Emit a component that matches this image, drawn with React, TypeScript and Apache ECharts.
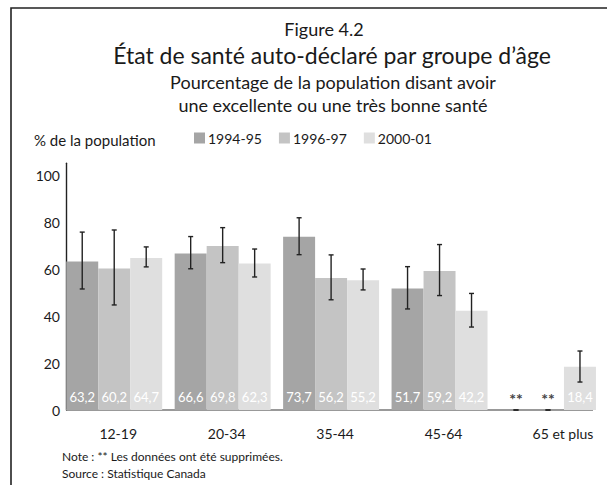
import React, { useEffect, useRef } from "react";
import * as echarts from "echarts";

const categories = ["12-19", "20-34", "35-44", "45-64", "65 et plus"];
const seriesNames = ["1994-95", "1996-97", "2000-01"];
// null = données supprimées (**)
const values1994 = [63.2, 66.6, 73.7, 51.7, null];
const values1996 = [60.2, 69.8, 56.2, 59.2, null];
const values2000 = [64.7, 62.3, 55.2, 42.2, 18.4];
const low1994 = [51.5, 60.1, 66.1, 43.0, 0];
const high1994 = [75.7, 73.8, 81.8, 61.0, 0];
const low1996 = [44.7, 62.7, 46.9, 48.7, 0];
const high1996 = [76.6, 77.6, 66.0, 70.4, 0];
const low2000 = [60.9, 56.6, 51.1, 35.3, 11.9];
const high2000 = [69.4, 68.5, 60.0, 49.6, 25.1];
const yTicks = [0, 20, 40, 60, 80, 100];

const colors = ["#a5a5a5", "#c4c4c4", "#dfdfdf"];
const FONT = "Lato";
const GAP = 0.115;

export default function App() {
  const ref = useRef<HTMLDivElement>(null);
  useEffect(() => {
    document.body.style.margin = "0";
    const chart = echarts.init(ref.current!, null, { renderer: "svg" });
    const allValues = [values1994, values1996, values2000];
    const lows = [low1994, low1996, low2000];
    const highs = [high1994, high1996, high2000];

    const barSeries = allValues.map((vals, s) => ({
      name: seriesNames[s],
      type: "bar",
      barGap: "0%",
      barCategoryGap: GAP * 100 + "%",
      itemStyle: { color: colors[s] },
      label: {
        show: true,
        position: "insideBottom",
        distance: 7,
        color: "#ffffff",
        fontFamily: FONT,
        fontSize: 13,
        formatter: (p: any) => Number(p.value).toFixed(1).replace(".", ","),
      },
      data: vals.map((v) =>
        v === null
          ? {
              value: 0,
              label: {
                show: true,
                position: "top",
                distance: 4,
                color: "#444",
                fontSize: 16,
                fontWeight: "bold",
                fontFamily: FONT,
                formatter: "**",
              },
            }
          : v
      ),
      z: 2,
    }));

    const errData: number[][] = [];
    lows.forEach((lo, s) =>
      lo.forEach((l, c) => errData.push([c, s, l, highs[s][c]]))
    );

    const errSeries = {
      type: "custom",
      name: "err",
      z: 5,
      encode: { x: 0, y: [2, 3] },
      data: errData,
      renderItem: (params: any, api: any) => {
        const c = api.value(0);
        const s = api.value(1);
        const lo = api.value(2);
        const hi = api.value(3);
        const band = api.size([1, 0])[0];
        const groupW = band * (1 - GAP);
        const barW = groupW / 3;
        const center = api.coord([c, 0])[0];
        const x = center - groupW / 2 + barW * (s + 0.5);
        const yLo = api.coord([c, lo])[1];
        const yHi = api.coord([c, hi])[1];
        const cap = 2.5;
        const style = { stroke: "#222", lineWidth: 1.4 };
        return {
          type: "group",
          children: [
            { type: "line", shape: { x1: x, y1: yLo, x2: x, y2: yHi }, style },
            { type: "line", shape: { x1: x - cap, y1: yHi, x2: x + cap, y2: yHi }, style },
            { type: "line", shape: { x1: x - cap, y1: yLo, x2: x + cap, y2: yLo }, style },
          ],
        };
      },
    };

    const txt = "#1a1a1a";
    chart.setOption({
      animation: false,
      textStyle: { fontFamily: FONT },
      graphic: [
        {
          type: "rect",
          shape: { x: 11, y: 8, width: 700, height: 600 },
          style: { fill: "none", stroke: "#222", lineWidth: 1.6 },
          silent: true,
        },
        {
          type: "text",
          x: 324,
          y: 29,
          style: { text: "Figure 4.2", font: `18px ${FONT}`, fill: txt, textAlign: "center", textVerticalAlign: "middle" },
        },
        {
          type: "text",
          x: 332,
          y: 55,
          style: { text: "État de santé auto-déclaré par groupe d’âge", font: `23px ${FONT}`, fill: txt, textAlign: "center", textVerticalAlign: "middle" },
        },
        {
          type: "text",
          x: 333,
          y: 82,
          style: { text: "Pourcentage de la population disant avoir", font: `18px ${FONT}`, fill: txt, textAlign: "center", textVerticalAlign: "middle" },
        },
        {
          type: "text",
          x: 333,
          y: 105,
          style: { text: "une excellente ou une très bonne santé", font: `18px ${FONT}`, fill: txt, textAlign: "center", textVerticalAlign: "middle" },
        },
        {
          type: "text",
          x: 34,
          y: 140,
          style: { text: "% de la population", font: `15px ${FONT}`, fill: txt, textAlign: "left", textVerticalAlign: "middle" },
        },
        {
          type: "line",
          shape: { x1: 66, y1: 410, x2: 593, y2: 410 },
          style: { stroke: "#777", lineWidth: 1.5 },
          z: 1,
        },
        {
          type: "text",
          x: 62,
          y: 456,
          style: { text: "Note : ** Les données ont été supprimées.", font: `12px ${FONT}`, fill: txt, textAlign: "left", textVerticalAlign: "middle" },
        },
        {
          type: "text",
          x: 62,
          y: 473,
          style: { text: "Source : Statistique Canada", font: `12px ${FONT}`, fill: txt, textAlign: "left", textVerticalAlign: "middle" },
        },
      ],
      legend: {
        data: seriesNames,
        left: 189,
        top: 126,
        itemWidth: 11,
        itemHeight: 11,
        itemGap: 17,
        icon: "rect",
        textStyle: { fontFamily: FONT, fontSize: 14, color: txt, padding: [0, 0, 0, -2] },
      },
      grid: { left: 60, right: 4.8, top: 163.25, bottom: 75, containLabel: false },
      xAxis: {
        type: "category",
        data: categories.map((c, i) =>
          i === categories.length - 1 ? { value: c, textStyle: { padding: [0, 0, 0, 30] } } : c
        ),
        axisLine: { show: false },
        axisTick: { show: false },
        axisLabel: { color: txt, fontSize: 14, fontFamily: FONT, margin: 16, padding: [0, 0, 0, 8] },
      },
      yAxis: {
        type: "value",
        min: 0,
        max: 105,
        interval: 20,
        offset: -6,
        splitLine: { show: false },
        axisTick: { show: false },
        axisLine: { show: true, lineStyle: { color: "#222", width: 1.4 } },
        axisLabel: {
          color: txt,
          fontSize: 14,
          fontFamily: FONT,
          margin: 6,
          showMaxLabel: false,
          formatter: (v: number) => (yTicks.includes(v) ? String(v) : ""),
        },
      },
      series: [...barSeries, errSeries],
    });
    return () => chart.dispose();
  }, []);
  return <div ref={ref} style={{ width: 607, height: 485 }} />;
}
